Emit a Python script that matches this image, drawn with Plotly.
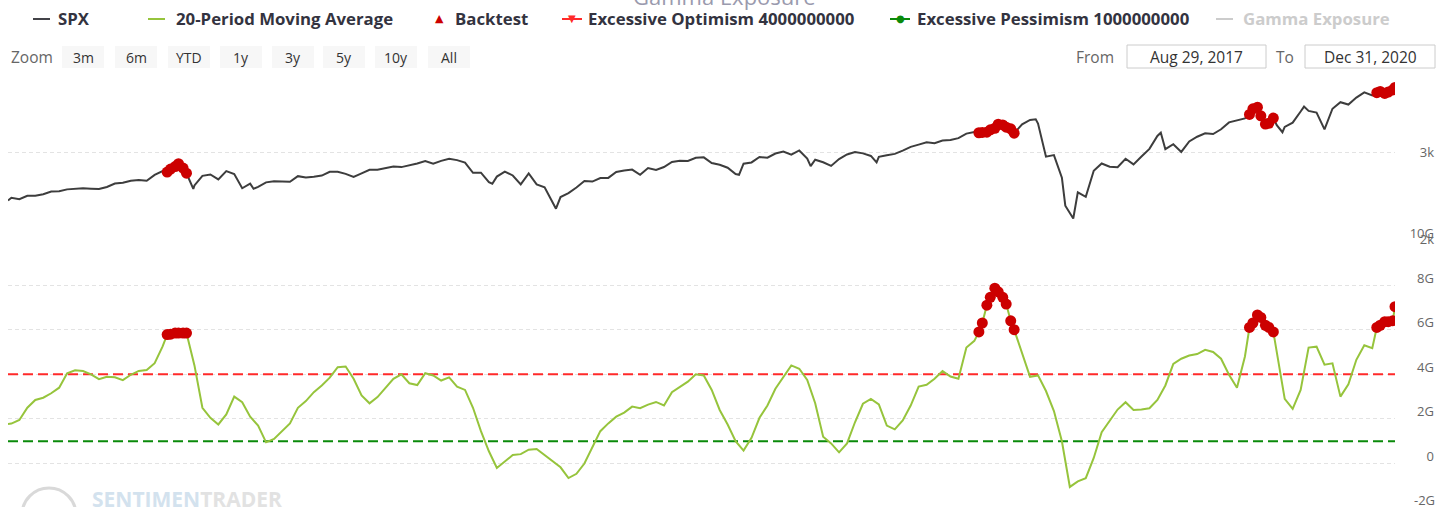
import plotly.graph_objects as go
import pandas as pd

W, H = 1438, 507

# ---------------- data ----------------
week_dates = pd.date_range("2017-09-01", "2020-12-25", freq="W-FRI")  # weekly closes (Fridays)

spx_weekly = [
    # 2017
    2477, 2461, 2500, 2502, 2519, 2549, 2553, 2575, 2581, 2587, 2582, 2579, 2602, 2642, 2652, 2675, 2683, 2674,
    # 2018
    2743, 2786, 2810, 2873, 2762, 2620, 2732, 2747, 2691, 2786, 2752, 2588, 2641, 2604, 2656, 2670, 2670,
    2663, 2728, 2713, 2721, 2735, 2779, 2780, 2755, 2718, 2760, 2801, 2802, 2819, 2840, 2833, 2850, 2875, 2902,
    2872, 2905, 2930, 2914, 2885, 2767, 2768, 2658, 2723, 2781, 2736, 2633, 2760, 2633, 2600, 2417, 2486,
    # 2019
    2532, 2596, 2671, 2665, 2707, 2708, 2776, 2793, 2804, 2743, 2822, 2801, 2834, 2893, 2907, 2905, 2940,
    2946, 2881, 2860, 2826, 2752, 2873, 2887, 2950, 2942, 2990, 3014, 2977, 3026, 2932, 2919, 2889, 2847, 2926,
    2979, 3007, 2992, 2962, 2952, 2970, 2986, 3023, 3067, 3093, 3120, 3110, 3141, 3146, 3169, 3221, 3240,
    # 2020
    3235, 3265, 3330, 3295, 3226, 3328, 3380, 3338, 2954, 2972, 2711, 2305, 2541, 2489, 2790, 2875, 2837,
    2831, 2930, 2864, 2955, 3044, 3194, 3041, 3098, 3009, 3130, 3185, 3225, 3216, 3271, 3351, 3373, 3397, 3508,
    3427, 3341, 3319, 3298, 3348, 3477, 3484, 3465, 3270, 3509, 3585, 3558, 3638, 3699, 3663, 3709, 3703,
]

# 20-period moving average of gamma exposure, in billions
ma_weekly = [
    # 2017
    1.79, 1.95, 2.5, 2.85, 2.95, 3.15, 3.4, 4.05, 4.18, 4.15, 4.0, 3.78, 3.89, 3.87, 3.74, 3.98, 4.15, 4.19,
    # 2018
    4.5, 5.25, 5.8, 5.85, 5.85, 4.4, 2.5, 2.05, 1.75, 2.2, 3.0, 2.75, 2.1, 1.7, 0.95, 1.1, 1.45, 1.8, 2.5, 2.8,
    3.2, 3.5, 3.85, 4.32, 4.35, 3.8, 3.05, 2.7, 2.98, 3.4, 3.8, 4.0, 3.6, 3.52, 4.05, 3.95, 3.72, 3.86, 3.45, 3.3,
    2.5, 1.45, 0.55, -0.2, 0.1, 0.38, 0.42, 0.62, 0.65, 0.38, 0.08, -0.17,
    # 2019
    -0.65, -0.46, 0.0, 0.7, 1.45, 1.8, 2.1, 2.28, 2.55, 2.48, 2.64, 2.76, 2.6, 3.2, 3.43, 3.67, 4.0, 3.95, 3.3,
    2.4, 1.75, 1.0, 0.58, 1.15, 2.05, 2.6, 3.35, 3.85, 4.4, 4.25, 3.75, 2.7, 1.2, 0.9, 0.5, 0.9, 1.85, 2.68, 2.9,
    2.65, 1.7, 1.53, 1.93, 2.6, 3.45, 3.53, 3.8, 4.15, 3.9, 3.8, 5.2, 5.5,
    # 2020
    6.3, 7.45, 7.7, 7.15, 6.0, 4.9, 3.89, 3.95, 3.25, 2.35, 1.0, -1.05, -0.8, -0.66, 0.25, 1.4, 1.92, 2.42, 2.75,
    2.4, 2.42, 2.48, 2.85, 3.5, 4.47, 4.7, 4.84, 4.91, 5.1, 5.0, 4.7, 3.98, 3.4, 4.8, 6.3, 6.55, 6.1, 5.0, 2.9,
    2.45, 3.3, 5.2, 5.24, 4.43, 4.49, 3.0, 3.55, 4.65, 5.3, 5.17, 6.2, 6.36,
]

# additional sessions (first/last day and mid-week sessions around signals)
extra_dates = [
    "2017-08-29", "2018-01-16", "2018-01-23", "2018-01-30",
    "2019-12-31", "2020-01-07", "2020-01-14", "2020-01-21", "2020-01-28",
    "2020-08-25", "2020-09-01", "2020-09-08", "2020-09-15",
    "2020-12-15", "2020-12-22", "2020-12-29", "2020-12-31",
]
spx_extra = [2446, 2776, 2839, 2822, 3231, 3238, 3283, 3321, 3276, 3443, 3527, 3332, 3401, 3695, 3687, 3727, 3756]
ma_extra = [1.77, 5.78, 5.85, 5.85, 5.9, 7.1, 7.86, 7.45, 6.4, 6.1, 6.66, 6.2, 5.9, 6.1, 6.36, 6.4, 7.03]

# SPX intraweek closing extremes
spx_swing_dates = [
    "2018-02-08", "2018-04-02", "2018-09-20", "2018-10-29", "2018-12-24", "2019-06-03", "2019-08-05",
    "2019-10-02", "2020-02-19", "2020-03-16", "2020-03-23", "2020-06-08", "2020-09-02", "2020-09-23", "2020-10-12",
]
spx_swing = [2581, 2582, 2931, 2641, 2351, 2744, 2844, 2887, 3386, 2386, 2237, 3232, 3580, 3237, 3534]

backtest_dates = [
    "2018-01-16", "2018-01-19", "2018-01-23", "2018-01-26", "2018-01-30", "2018-02-02",
    "2019-12-31", "2020-01-03", "2020-01-07", "2020-01-10", "2020-01-14", "2020-01-17", "2020-01-21",
    "2020-01-24", "2020-01-28", "2020-01-31",
    "2020-08-25", "2020-08-28", "2020-09-01", "2020-09-04", "2020-09-08", "2020-09-11", "2020-09-15",
    "2020-12-15", "2020-12-18", "2020-12-22", "2020-12-25", "2020-12-29", "2020-12-31",
]

optimism_level = 4000000000
pessimism_level = 1000000000

y_right_ticks_ma = [0, 2, 4, 6, 8, 10]
y_right_text_ma = ["0", "2G", "4G", "6G", "8G", "10G"]
y_right_ticks_spx = [2000, 3000]
y_right_text_spx = ["2k", "3k"]

# ---------------- build series ----------------
spx = pd.concat([
    pd.Series(spx_weekly, index=week_dates),
    pd.Series(spx_extra, index=pd.to_datetime(extra_dates)),
    pd.Series(spx_swing, index=pd.to_datetime(spx_swing_dates)),
]).sort_index()
ma = pd.concat([
    pd.Series(ma_weekly, index=week_dates),
    pd.Series(ma_extra, index=pd.to_datetime(extra_dates)),
]).sort_index()
bt = pd.to_datetime(backtest_dates)

x_start, x_end = ma.index[0], ma.index[-1]


def px(x):
    return x / W


def py(y):
    return 1 - y / H


FONT = "Open Sans"
fig = go.Figure()

fig.add_trace(go.Scatter(x=spx.index, y=spx.values, xaxis="x2", yaxis="y2", mode="lines",
                         line=dict(color="#3d3d3d", width=2), name="SPX", showlegend=False))
fig.add_trace(go.Scatter(x=bt, y=spx.loc[bt].values, xaxis="x2", yaxis="y2", mode="markers",
                         marker=dict(color="#cc0000", size=11), name="Backtest", showlegend=False))

fig.add_trace(go.Scatter(x=[x_start, x_end], y=[optimism_level / 1e9] * 2, xaxis="x", yaxis="y", mode="lines",
                         line=dict(color="#ff2a2a", width=2, dash="10px,5px"),
                         name="Excessive Optimism 4000000000", showlegend=False))
fig.add_trace(go.Scatter(x=[x_start, x_end], y=[pessimism_level / 1e9] * 2, xaxis="x", yaxis="y", mode="lines",
                         line=dict(color="#0a8a0a", width=2, dash="10px,5px"),
                         name="Excessive Pessimism 1000000000", showlegend=False))
fig.add_trace(go.Scatter(x=ma.index, y=ma.values, xaxis="x", yaxis="y", mode="lines",
                         line=dict(color="#96c43c", width=2), name="20-Period Moving Average", showlegend=False))
fig.add_trace(go.Scatter(x=bt, y=ma.loc[bt].values, xaxis="x", yaxis="y", mode="markers",
                         marker=dict(color="#cc0000", size=11), name="Backtest", showlegend=False))

xdom = [px(8), px(1395)]
grid_common = dict(gridcolor="#e3e3e3", griddash="4px,3px", gridwidth=1, zeroline=False, showline=False,
                   ticks="", side="right", anchor="free", position=px(1437), ticklabelposition="inside",
                   ticklabeloverflow="allow", automargin=False,
                   tickfont=dict(family=FONT, size=13, color="#666666"))
x_common = dict(domain=xdom, range=[x_start, x_end], type="date", showgrid=False, showticklabels=False,
                zeroline=False, showline=False, ticks="", automargin=False)

fig.update_layout(
    width=W, height=H, margin=dict(l=0, r=0, t=0, b=0, pad=0, autoexpand=False),
    paper_bgcolor="white", plot_bgcolor="white", showlegend=False,
    xaxis=dict(anchor="y", **x_common),
    xaxis2=dict(anchor="y2", matches="x", **x_common),
    yaxis=dict(domain=[0, py(240.5)], range=[-1.95, 10], tickvals=y_right_ticks_ma, ticktext=y_right_text_ma,
               ticklabelshift=-7, **grid_common),
    yaxis2=dict(domain=[py(239), py(75)], range=[2000, 3900], tickvals=y_right_ticks_spx,
                ticktext=y_right_text_spx, **grid_common),
)

shapes = []
ann = []

# -2G label (grid line falls just below the visible area)
ann.append(dict(x=px(1437), y=py(499.5), xref="paper", yref="paper", text="-2G", showarrow=False,
                xanchor="right", yanchor="middle", font=dict(family=FONT, size=13, color="#666666")))

# title (mostly cut off at top)
ann.append(dict(x=px(724), y=py(13), xref="paper", yref="paper", text="Gamma Exposure", showarrow=False,
                xanchor="center", yanchor="bottom", font=dict(family=FONT, size=22, color="#9a9aae")))

# legend
LY = 19
leg_font = dict(family=FONT, size=16.8, color="#333340")


def leg_line(x0, x1, color):
    shapes.append(dict(type="line", xref="paper", yref="paper", x0=px(x0), x1=px(x1), y0=py(LY), y1=py(LY),
                       line=dict(color=color, width=2)))


def leg_text(x, text, color=None):
    f = dict(leg_font)
    if color:
        f["color"] = color
    ann.append(dict(x=px(x), y=py(LY), xref="paper", yref="paper", text="<b>" + text + "</b>", showarrow=False,
                    xanchor="left", yanchor="middle", font=f))


def leg_sym(x, sym, color, size):
    ann.append(dict(x=px(x), y=py(LY), xref="paper", yref="paper", text=sym, showarrow=False,
                    xanchor="center", yanchor="middle", font=dict(family="DejaVu Sans", size=size, color=color)))


leg_line(33, 50, "#434348")
leg_text(56, "SPX")
leg_line(148, 165, "#96c43c")
leg_text(174, "20-Period Moving Average")
leg_sym(440, "▲", "#cc0000", 11)
leg_text(453, "Backtest")
leg_line(562, 582, "#ff2a2a")
leg_sym(572, "▼", "#ff2a2a", 10)
leg_text(586, "Excessive Optimism 4000000000")
leg_line(890, 910, "#0a8a0a")
leg_sym(900, "●", "#0a8a0a", 10)
leg_text(915, "Excessive Pessimism 1000000000")
leg_line(1216, 1233, "#cccccc")
leg_text(1241, "Gamma Exposure", "#cccccc")

# range selector look-alike
ZY = 57
ann.append(dict(x=px(9), y=py(ZY), xref="paper", yref="paper", text="Zoom", showarrow=False,
                xanchor="left", yanchor="middle", font=dict(family=FONT, size=15.5, color="#666666")))
buttons = ["3m", "6m", "YTD", "1y", "3y", "5y", "10y", "All"]
centers = [83, 136, 189, 241, 293, 344, 396, 449]
for lab, c in zip(buttons, centers):
    shapes.append(dict(type="rect", xref="paper", yref="paper", x0=px(c - 21), x1=px(c + 21),
                       y0=py(68), y1=py(46), fillcolor="#f7f7f7", line=dict(width=0), layer="below"))
    ann.append(dict(x=px(c), y=py(ZY), xref="paper", yref="paper", text=lab, showarrow=False,
                    xanchor="center", yanchor="middle", font=dict(family=FONT, size=14, color="#333333")))

ann.append(dict(x=px(1116), y=py(ZY), xref="paper", yref="paper", text="From", showarrow=False,
                xanchor="right", yanchor="middle", font=dict(family=FONT, size=15.5, color="#666666")))
ann.append(dict(x=px(1296), y=py(ZY), xref="paper", yref="paper", text="To", showarrow=False,
                xanchor="right", yanchor="middle", font=dict(family=FONT, size=15.5, color="#666666")))
for x0, x1, txt in [(1127, 1266, "Aug 29, 2017"), (1305, 1435, "Dec 31, 2020")]:
    shapes.append(dict(type="rect", xref="paper", yref="paper", x0=px(x0), x1=px(x1), y0=py(68), y1=py(45),
                       fillcolor="white", line=dict(color="#cccccc", width=1), layer="below"))
    ann.append(dict(x=px((x0 + x1) / 2), y=py(ZY), xref="paper", yref="paper", text=txt, showarrow=False,
                    xanchor="center", yanchor="middle", font=dict(family=FONT, size=15.5, color="#333333")))

# watermark
shapes.append(dict(type="circle", xref="paper", yref="paper", x0=px(22), x1=px(76), y0=py(488), y1=py(542),
                   line=dict(color="#d9d9d9", width=3), layer="below"))
ann.append(dict(x=px(90), y=py(483), xref="paper", yref="paper",
                text="<b><span style='color:#d3e2ee'>SENTIMEN</span><span style='color:#e2e2e2'>TRADER</span></b>",
                showarrow=False, xanchor="left", yanchor="top", font=dict(family=FONT, size=21)))

fig.update_layout(shapes=shapes, annotations=ann)

fig.write_html("out.html", config={"displayModeBar": False},
               post_script="document.body.style.margin='0';document.body.style.overflow='hidden';")
